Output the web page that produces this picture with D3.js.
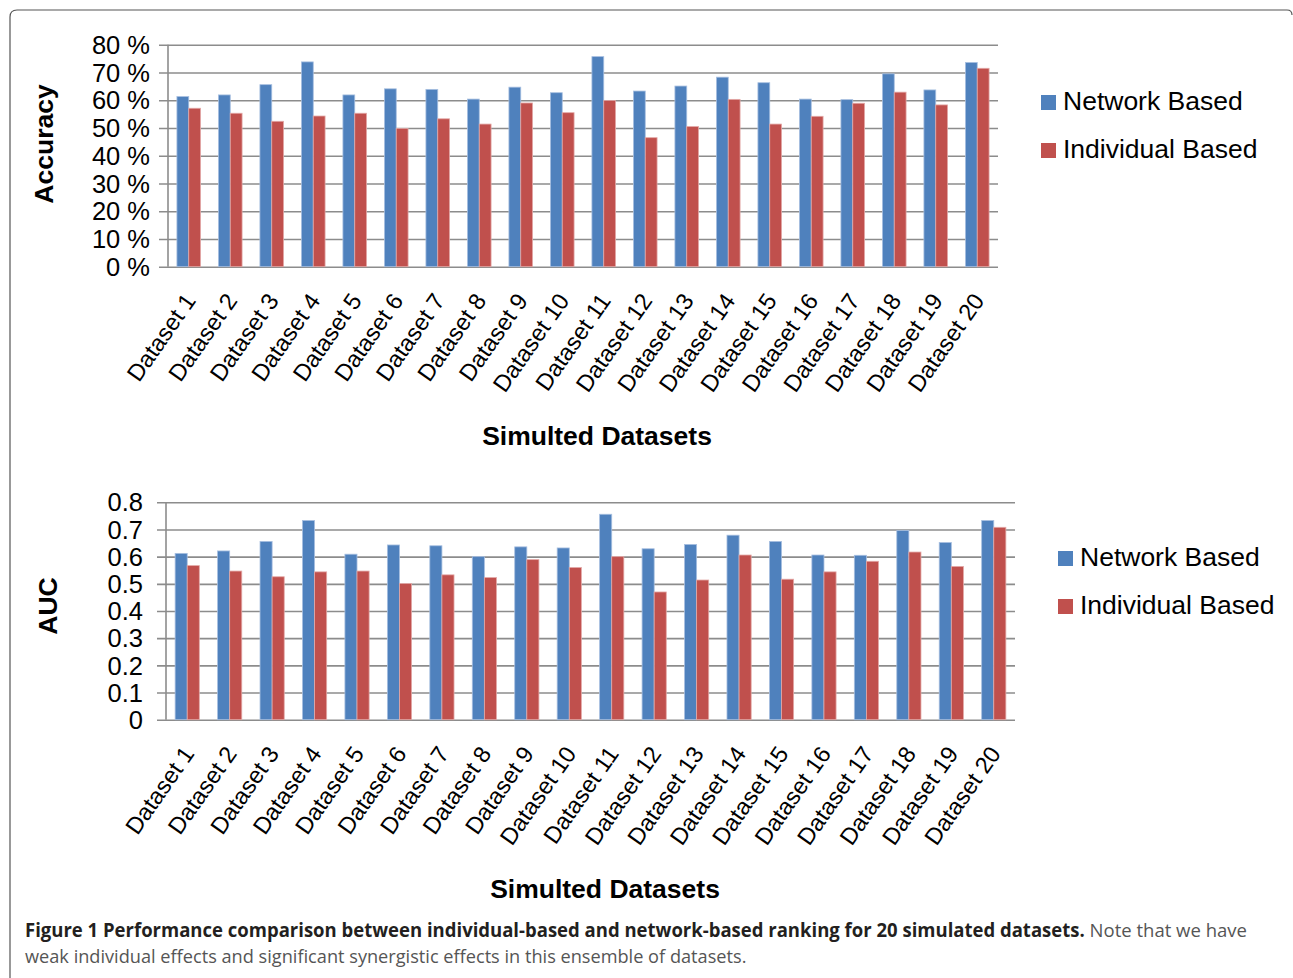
<!DOCTYPE html>
<html><head><meta charset="utf-8">
<script src="https://cdnjs.cloudflare.com/ajax/libs/d3/7.8.5/d3.min.js"></script>
<style>
html,body{margin:0;padding:0;background:#fff;}
svg{display:block;}
</style></head>
<body>
<svg id="chart" width="1293" height="978"></svg>
<script>
const categories = ["Dataset 1","Dataset 2","Dataset 3","Dataset 4","Dataset 5","Dataset 6","Dataset 7","Dataset 8","Dataset 9","Dataset 10","Dataset 11","Dataset 12","Dataset 13","Dataset 14","Dataset 15","Dataset 16","Dataset 17","Dataset 18","Dataset 19","Dataset 20"];
const seriesNames = ["Network Based","Individual Based"];
const accuracyNetwork = [61.3,61.9,65.6,73.8,61.9,64.1,63.9,60.4,64.7,62.7,75.7,63.3,65.1,68.3,66.3,60.4,60.2,69.5,63.7,73.6];
const accuracyIndividual = [57.1,55.3,52.4,54.3,55.3,49.8,53.3,51.4,59.0,55.5,59.9,46.5,50.5,60.3,51.4,54.2,58.9,62.9,58.3,71.5];
const aucNetwork = [0.612,0.621,0.656,0.733,0.609,0.643,0.640,0.600,0.636,0.632,0.756,0.629,0.645,0.679,0.656,0.606,0.605,0.696,0.652,0.733];
const aucIndividual = [0.567,0.547,0.526,0.544,0.547,0.501,0.533,0.523,0.589,0.560,0.600,0.470,0.514,0.606,0.517,0.544,0.583,0.617,0.564,0.708];
const accuracyTicks = [0,10,20,30,40,50,60,70,80];
const aucTicks = [0,0.1,0.2,0.3,0.4,0.5,0.6,0.7,0.8];
const accuracyTickLabels = ["0 %","10 %","20 %","30 %","40 %","50 %","60 %","70 %","80 %"];
const aucTickLabels = ["0","0.1","0.2","0.3","0.4","0.5","0.6","0.7","0.8"];
const xTitle = "Simulted Datasets";
const captionBold = "Figure 1 Performance comparison between individual-based and network-based ranking for 20 simulated datasets.";
const captionRest1 = " Note that we have";
const captionLine2 = "weak individual effects and significant synergistic effects in this ensemble of datasets.";

const colors = ["#4F81BD","#C0504D"];
const edge = ["#a7bfe0","#e3a9a7"];
const FONT = "'Liberation Sans', Arial, Helvetica, sans-serif";
const svg = d3.select("#chart");

// frame
svg.append("path")
  .attr("d","M10,990 V17 Q10,10 17,10 H1287 Q1292,10 1292,15")
  .attr("fill","none").attr("stroke","#555").attr("stroke-width",1.2);

function panel(cfg){
  const g = svg.append("g");
  const x = d3.scaleBand().domain(categories).range([cfg.left, cfg.right]).paddingInner(0.43).paddingOuter(0.215);
  const xs = d3.scaleBand().domain([0,1]).range([0, x.bandwidth()]);
  const y = d3.scaleLinear().domain([cfg.ticks[0], cfg.ticks[cfg.ticks.length-1]]).range([cfg.bottom, cfg.top]);

  // gridlines with tick extension
  const ag = g.append("g").attr("transform",`translate(${cfg.right},0)`);
  ag.call(d3.axisLeft(y).tickValues(cfg.ticks).tickSize(cfg.right - cfg.left + 9).tickFormat(""));
  ag.select(".domain").remove();
  ag.selectAll(".tick line").attr("stroke","#8c8c8c").attr("stroke-width",1.6);

  // vertical axis line
  g.append("line").attr("x1",cfg.left).attr("x2",cfg.left).attr("y1",y.range()[1]).attr("y2",y.range()[0])
    .attr("stroke","#8c8c8c").attr("stroke-width",1.6);

  // tick labels
  g.selectAll("text.ytl").data(cfg.ticks).enter().append("text")
    .attr("class","ytl")
    .attr("x",cfg.labelRight).attr("y",d=>y(d)).attr("dy","0.36em")
    .attr("text-anchor","end").attr("font-family",FONT).attr("font-size",cfg.tickFont).attr("fill","#000")
    .text((d,i)=>cfg.tickLabels[i]);

  // bars
  const series = [cfg.s0, cfg.s1];
  series.forEach((vals,si)=>{
    g.selectAll(null).data(vals).enter().append("rect")
      .attr("x",(d,i)=>x(categories[i]) + xs(si))
      .attr("width",xs.bandwidth())
      .attr("y",d=>y(d)).attr("height",d=>y(cfg.ticks[0]) - y(d))
      .attr("fill",colors[si]).attr("stroke",edge[si]).attr("stroke-width",0.8);
  });

  // x labels
  g.selectAll("text.xl").data(categories).enter().append("text")
    .attr("class","xl")
    .attr("transform",d=>`translate(${x(d)+x.bandwidth()/2+8},${cfg.bottom+34}) rotate(-55)`)
    .attr("text-anchor","end").attr("font-family",FONT).attr("font-size",23.5).attr("fill","#000")
    .text(d=>d);

  // axis titles
  g.append("text").attr("transform",`translate(${cfg.yTitleX},${cfg.yTitleY}) rotate(-90)`)
    .attr("text-anchor","middle").attr("font-family",FONT).attr("font-weight","bold").attr("font-size",26.5).attr("fill","#000")
    .text(cfg.yTitle);
  g.append("text").attr("x",cfg.xTitleX).attr("y",cfg.xTitleY)
    .attr("text-anchor","middle").attr("font-family",FONT).attr("font-weight","bold").attr("font-size",26.5).attr("fill","#000")
    .text(xTitle);

  // legend
  seriesNames.forEach((s,i)=>{
    g.append("rect").attr("x",cfg.legX).attr("y",cfg.legY + i*48 - 15).attr("width",15).attr("height",15).attr("fill",colors[i]);
    g.append("text").attr("x",cfg.legX+22).attr("y",cfg.legY + i*48).attr("font-family",FONT).attr("font-size",26.5).attr("fill","#000").text(s);
  });
}

panel({left:168, right:998, top:44.7, bottom:266.7, ticks:accuracyTicks, tickLabels:accuracyTickLabels, labelRight:150, tickFont:25.5,
  s0:accuracyNetwork, s1:accuracyIndividual, yTitle:"Accuracy", yTitleX:52.5, yTitleY:144, xTitleX:597, xTitleY:445,
  legX:1041, legY:110});
panel({left:166, right:1015, top:502.3, bottom:719.7, ticks:aucTicks, tickLabels:aucTickLabels, labelRight:143, tickFont:25.5,
  s0:aucNetwork, s1:aucIndividual, yTitle:"AUC", yTitleX:56.5, yTitleY:606, xTitleX:605, xTitleY:898,
  legX:1058, legY:566});

// caption: natural text, horizontally scaled to fit the reference widths
const CF = "'Open Sans', 'Noto Sans', sans-serif";
function fitLine(y, parts, width){
  const t = svg.append("text").attr("font-family",CF).attr("font-size",19);
  parts.forEach(p=>{
    t.append("tspan").attr("font-weight",p.bold?"bold":"normal").attr("fill",p.bold?"#231f20":"#555").text(p.text);
  });
  const w = t.node().getComputedTextLength();
  t.attr("transform",`translate(25,${y}) scale(${width/w},1)`);
}
fitLine(937, [{text:captionBold,bold:true},{text:captionRest1,bold:false}], 1223);
fitLine(963, [{text:captionLine2,bold:false}], 722);
</script>
</body></html>
